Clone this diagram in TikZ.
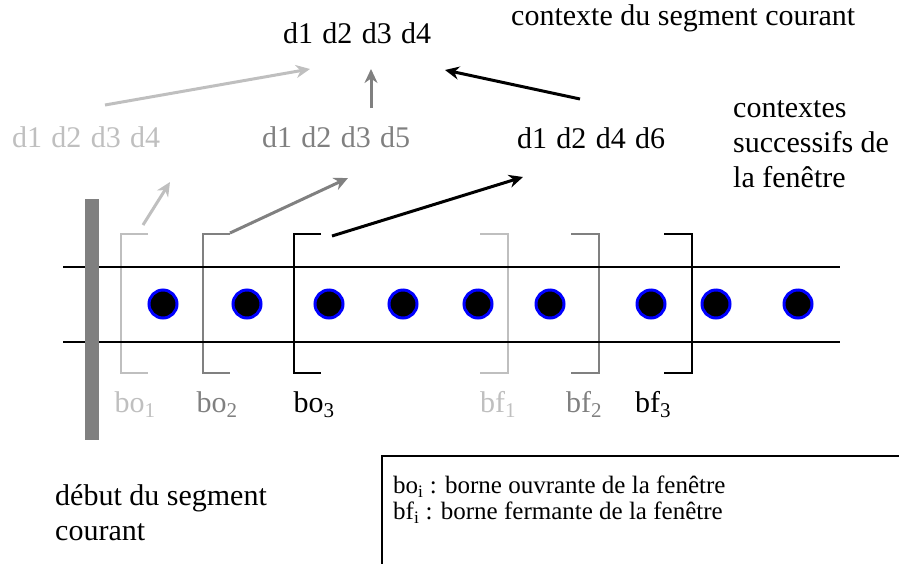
\documentclass[tikz,border=0pt]{standalone}
\usepackage{fontspec}
\setmainfont{Liberation Serif}
\usetikzlibrary{positioning,arrows.meta}
\definecolor{palegray}{gray}{0.75}
\definecolor{midgray}{gray}{0.5}
\newcommand{\dsep}{\hspace{0.31em}}

\begin{document}
\begin{tikzpicture}[x=1pt, y=-1pt,
    txt/.style={font=\fontsize{30}{35}\selectfont, inner sep=0pt},
    lbl/.style={txt, anchor=base},
    arr/.style={line width=3pt, -{Stealth[length=14pt,width=13pt,inset=4.5pt]}},
    dot/.style={circle, fill=black, draw=blue, line width=3pt, minimum size=28pt, inner sep=0pt}]
    \useasboundingbox (0,0) rectangle (899,563);

    % contexts
    \node[txt, anchor=base west] (cur) at (283,43) {d1\dsep d2\dsep d3\dsep d4};
    \node[txt, anchor=base west] (title) at (511,25) {contexte du segment courant};
    \node[txt, anchor=base west, text=palegray] (ctx1) at (12,147) {d1\dsep d2\dsep d3\dsep d4};
    \node[txt, anchor=base west, text=midgray] (ctx2) at (262,147) {d1\dsep d2\dsep d3\dsep d5};
    \node[txt, anchor=base west] (ctx3) at (517,148) {d1\dsep d2\dsep d4\dsep d6};
    \node[txt, anchor=north west, align=left] (note) at (733,100) {contextes\\successifs de\\la fenêtre};

    % brackets of the window
    \foreach \i/\xo/\xf/\lo/\lf/\c/\w in {1/121/508/135/498/palegray/2,
                                           2/203/599/217/584/midgray/2,
                                           3/294/692/314/653/black/2.6} {
        \draw[\c, line width=\w pt] (\xo+27,234) -| (\xo,373) -- (\xo+27,373);
        \draw[\c, line width=\w pt] (\xf-28,234) -| (\xf,373) -- (\xf-28,373);
        \node[lbl, text=\c] (bo\i) at (\lo,412) {bo\textsubscript{\i}};
        \node[lbl, text=\c] (bf\i) at (\lf,412) {bf\textsubscript{\i}};
    }

    % the text band
    \draw[line width=2.5pt] (63,267) -- (840,267);
    \draw[line width=2.5pt] (63,342) -- (840,342);
    \foreach \x in {163,247,329,403,478,550,651,716,798}
        \node[dot] (w\x) at (\x,304) {};
    \fill[midgray] (85,199) rectangle (99,440);

    % arrow ends
    \coordinate (o1) at (143,225);
    \coordinate (o2) at (230,233);
    \coordinate (o3) at (332,236);
    \coordinate (c1) at (170,182);
    \coordinate (c2) at (348,178);
    \coordinate (c3) at (523,177);
    \coordinate (u1) at (105,105);
    \coordinate (u2) at (371,108);
    \coordinate (u3) at (580,99);
    \coordinate (t1) at (310,69);
    \coordinate (t2) at (371,69);
    \coordinate (t3) at (445,70);

    \draw[arr, palegray] (o1) -- (c1);
    \draw[arr, midgray] (o2) -- (c2);
    \draw[arr] (o3) -- (c3);
    \draw[arr, palegray] (u1) -- (t1);
    \draw[arr, midgray] (u2) -- (t2);
    \draw[arr] (u3) -- (t3);

    \node[txt, anchor=north west, align=left] (start) at (55,484) {début du segment\\courant};

    % legend
    \draw[line width=2.5pt] (905,456) -- (382,456) -- (382,570);
    \node[anchor=north west, align=left, inner sep=0pt, font=\fontsize{25}{26}\selectfont] (legend) at (393,476)
        {bo\textsubscript{i} : borne ouvrante de la fenêtre\\bf\textsubscript{i} : borne fermante de la fenêtre};
\end{tikzpicture}
\end{document}
